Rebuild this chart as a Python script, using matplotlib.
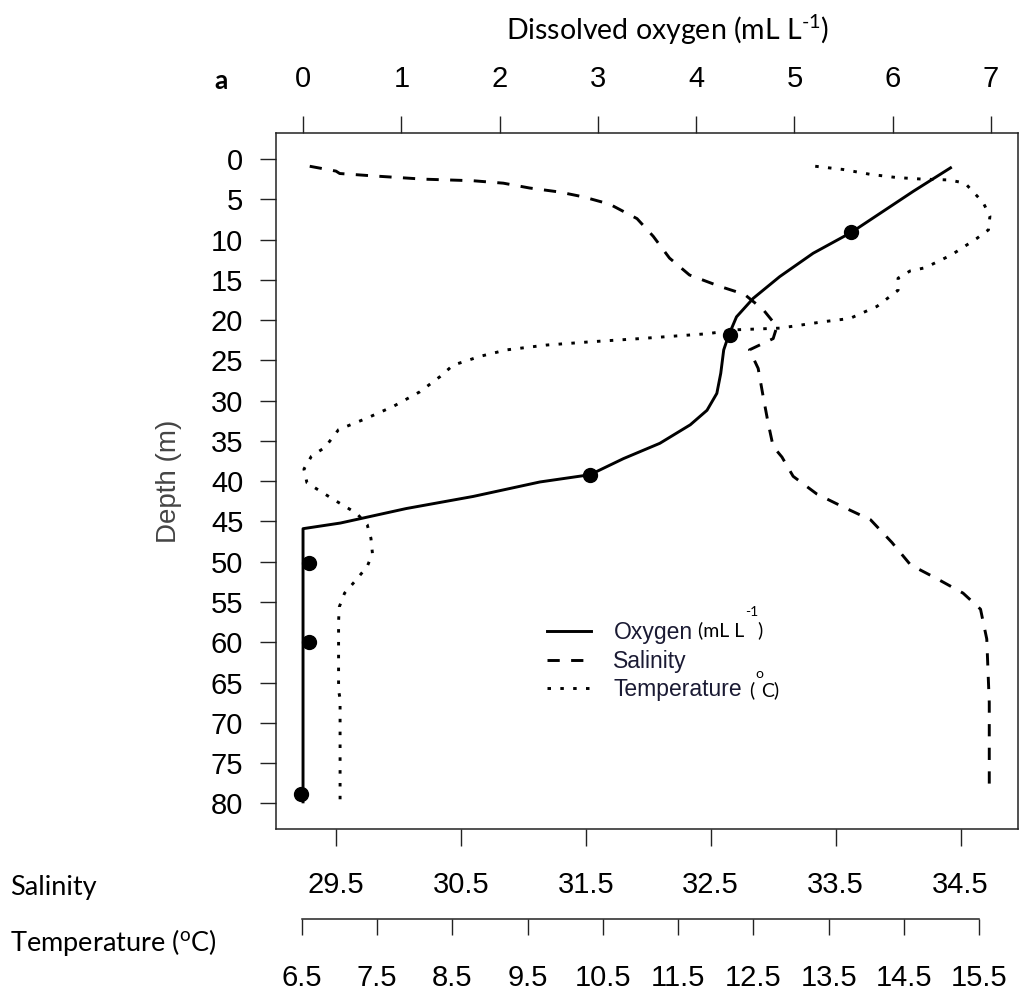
import matplotlib
matplotlib.use('Agg')

import matplotlib.pyplot as plt
from matplotlib.lines import Line2D
from matplotlib import rcParams

rcParams['font.family'] = ['Liberation Sans', 'DejaVu Sans']
rcParams['mathtext.fontset'] = 'custom'
rcParams['mathtext.rm'] = 'Lato'
rcParams['mathtext.it'] = 'Lato:italic'

TICK_FONT = 21
LABEL_FONT = 19.5
INK = '#222222'

# profile data (depth in m)
oxy_depth = [1.0, 4.0, 9.1, 11.7, 14.6, 17.3, 19.6, 21.9, 23.7, 26.6, 29.1, 31.2,
			 33.0, 35.3, 37.2, 39.2, 40.1, 41.9, 43.4, 45.2, 45.9, 80.0]
oxy_value = [6.60, 6.21, 5.58, 5.19, 4.85, 4.58, 4.41, 4.33, 4.28, 4.25, 4.21, 4.11,
			 3.94, 3.63, 3.26, 2.92, 2.41, 1.73, 1.05, 0.38, 0.0, 0.0]

sample_depth = [9.1, 21.9, 39.2, 50.1, 60.0, 78.8]
sample_oxy = [5.58, 4.34, 2.92, 0.06, 0.06, -0.02]

sal_depth = [0.9, 1.5, 1.8, 2.1, 2.5, 2.7, 3.0, 3.6, 4.1, 4.7, 5.6, 7.4, 9.6, 12.3,
			 14.4, 15.8, 16.8, 18.7, 20.8, 22.3, 23.7, 26.0, 29.5, 32.8, 35.7, 37.0,
			 39.4, 41.6, 43.2, 44.8, 47.6, 50.4, 52.1, 53.9, 55.9, 59.6, 63.6, 67.5, 78.7]
sal_value = [29.29, 29.50, 29.53, 29.80, 30.20, 30.60, 30.84, 31.05, 31.29, 31.48,
			 31.69, 31.91, 32.04, 32.17, 32.33, 32.57, 32.77, 32.92, 33.03, 33.00,
			 32.81, 32.88, 32.92, 32.96, 33.00, 33.07, 33.16, 33.35, 33.56, 33.78,
			 33.95, 34.10, 34.31, 34.52, 34.66, 34.71, 34.72, 34.73, 34.73]

temp_depth = [0.9, 1.3, 1.9, 2.3, 2.5, 2.6, 3.0, 5.4, 7.1, 8.8, 9.9, 11.9, 13.5, 13.9,
			  14.8, 16.3, 18.3, 19.8, 20.2, 20.7, 21.0, 21.2, 21.7, 22.0, 22.3, 22.7,
			  23.1, 23.7, 24.5, 25.6, 27.0, 28.9, 30.7, 32.2, 33.6, 35.8, 36.9, 38.5,
			  40.2, 41.2, 42.2, 43.1, 44.0, 45.4, 47.1, 49.0, 50.6, 52.4, 53.9, 55.6,
			  57.4, 66.0, 67.0, 79.5]
temp_value = [13.32, 13.69, 14.05, 14.40, 14.75, 15.10, 15.31, 15.55, 15.64, 15.62,
			  15.46, 15.13, 14.78, 14.58, 14.42, 14.42, 14.14, 13.78, 13.43, 13.07,
			  12.85, 12.28, 11.88, 11.43, 10.99, 10.33, 9.75, 9.22, 8.87, 8.51, 8.34,
			  8.07, 7.72, 7.36, 6.99, 6.81, 6.63, 6.53, 6.57, 6.74, 6.91, 7.07, 7.23,
			  7.37, 7.42, 7.44, 7.37, 7.21, 7.07, 7.00, 6.99, 6.99, 7.01, 7.01]

depth_ticks = list(range(0, 81, 5))
oxy_ticks = list(range(0, 8))
sal_ticks = [29.5, 30.5, 31.5, 32.5, 33.5, 34.5]
temp_ticks = [6.5, 7.5, 8.5, 9.5, 10.5, 11.5, 12.5, 13.5, 14.5, 15.5]

W, H = 1019, 991


def fx(px):
	return px / W


def fy(py):
	return 1 - py / H


fig = plt.figure(figsize=(W / 100, H / 100), dpi=100)
ax = fig.add_axes([fx(276), fy(829), fx(1018) - fx(276), fy(133) - fy(829)])

LW = 2.1
ax.plot(oxy_value, oxy_depth, color='black', lw=LW, solid_capstyle='butt')
ax.plot(sample_oxy, sample_depth, 'o', color='black', ms=10)
ax.set_xlim(-0.275, 7.274)
ax.set_ylim(83.19, -3.23)

ax_s = ax.twiny()
ax_s.plot(sal_value, sal_depth, color='black', lw=LW, dashes=(4.2, 3.9))
ax_s.set_xlim(29.02, 34.96)

ax_t = ax.twiny()
ax_t.plot(temp_value, temp_depth, color='black', lw=LW, dashes=(1.2, 3.2))
ax_t.set_xlim(6.159, 16.013)

# box and oxygen / depth axes
for sp in ax.spines.values():
	sp.set_linewidth(1.1)
	sp.set_color(INK)
ax.xaxis.set_ticks_position('top')
ax.set_xticks(oxy_ticks)
ax.set_yticks(depth_ticks)
ax.tick_params(axis='x', direction='out', length=12.5, width=1.0, pad=16, labelsize=TICK_FONT, color=INK)
ax.tick_params(axis='y', direction='out', length=11.5, width=1.0, pad=12, labelsize=TICK_FONT, color=INK)

# salinity axis (bottom, no line)
for sp in ax_s.spines.values():
	sp.set_visible(False)
ax_s.xaxis.set_ticks_position('bottom')
ax_s.xaxis.set_label_position('bottom')
ax_s.set_xticks(sal_ticks)
ax_s.set_xticklabels(['%.1f' % v for v in sal_ticks])
ax_s.tick_params(axis='x', direction='out', length=12.5, width=1.0, pad=18, labelsize=TICK_FONT, color=INK)

# temperature axis (detached line below)
for name, sp in ax_t.spines.items():
	sp.set_visible(name == 'bottom')
ax_t.spines['bottom'].set_position(('outward', 64.8))
ax_t.spines['bottom'].set_bounds(6.5, 15.5)
ax_t.spines['bottom'].set_linewidth(1.1)
ax_t.spines['bottom'].set_color(INK)
ax_t.xaxis.set_ticks_position('bottom')
ax_t.set_xticks(temp_ticks)
ax_t.set_xticklabels(['%.1f' % v for v in temp_ticks])
ax_t.tick_params(axis='x', direction='out', length=11.5, width=1.0, pad=21, labelsize=TICK_FONT, color=INK)

ax.set_ylabel('Depth (m)', fontsize=20, color='#444444')
ax.yaxis.set_label_coords((182 - 276) / (1018 - 276), 0.5)

# texts added around the plot
fig.text(fx(668), fy(30), 'Dissolved oxygen (mL L$^{\\text{-1}}$)', family='Lato',
		 fontsize=20.5, ha='center', va='center')
fig.text(fx(221), fy(81), 'a', family='Lato', fontweight='bold', fontsize=19,
		 ha='center', va='center')
fig.text(fx(10), fy(887), 'Salinity', family='Lato', fontsize=LABEL_FONT,
		 ha='left', va='center')
fig.text(fx(10), fy(942), 'Temperature ($^{\\mathrm{o}}$C)', family='Lato',
		 fontsize=LABEL_FONT, ha='left', va='center')

# legend
handles = [Line2D([], [], color='black', lw=LW),
		   Line2D([], [], color='black', lw=LW, dashes=(4.2, 3.9)),
		   Line2D([], [], color='black', lw=LW, dashes=(1.2, 3.2))]
leg = fig.legend(handles, ['Oxygen', 'Salinity', 'Temperature'], loc='upper left',
				 bbox_to_anchor=(fx(547), fy(621)), frameon=False, fontsize=16.5,
				 handlelength=1.9, handletextpad=1.0, labelspacing=0.25,
				 borderpad=0, borderaxespad=0)
for t in leg.get_texts():
	t.set_color('#1a1a33')

fig.text(fx(698), fy(630), '(mL L', family='Lato', fontsize=14, ha='left', va='center')
fig.text(fx(745), fy(612), '-1', family='Lato', fontsize=10, ha='left', va='center')
fig.text(fx(757), fy(630), ')', family='Lato', fontsize=14, ha='left', va='center')
fig.text(fx(749), fy(690), '(', family='Lato', fontsize=14, ha='left', va='center')
fig.text(fx(755), fy(674), 'o', family='Lato', fontsize=10, ha='left', va='center')
fig.text(fx(761), fy(690), 'C)', family='Lato', fontsize=14, ha='left', va='center')

fig.savefig('out.png', dpi=100)
